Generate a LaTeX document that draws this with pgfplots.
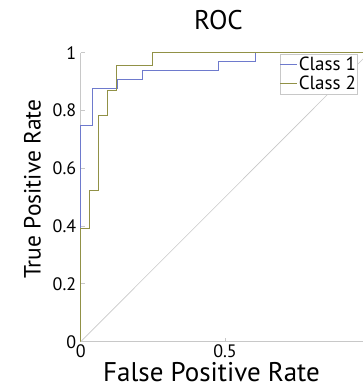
\documentclass[border=0pt]{standalone}
\usepackage{pgfplots}
\pgfplotsset{compat=1.18}
\usepackage{fontspec}
\setmainfont{PT Sans}
\definecolor{cblue}{RGB}{110,122,205}
\definecolor{colive}{RGB}{145,145,70}
\definecolor{axgray}{RGB}{200,200,200}
\begin{document}
\begin{tikzpicture}[x=1pt,y=1pt]
\begin{axis}[
  at={(80.7pt,46.3pt)}, anchor=south west,
  scale only axis, width=288.6pt, height=289pt,
  xmin=0, xmax=1, ymin=0, ymax=1,
  axis x line=bottom, axis y line=left,
  axis line style={-, axgray, line width=0.8pt},
  tick style={axgray, line width=0.8pt},
  major tick length=4pt, tick align=inside,
  xtick={0,0.5,1}, ytick={0,0.2,0.4,0.6,0.8,1},
  xticklabels={0,0.5,{}}, yticklabels={0,0.2,0.4,0.6,0.8,1},
  ticklabel style={font=\fontsize{18}{20}\selectfont, text=black},
  yticklabel style={xshift=-1pt},
  xticklabel style={inner sep=0pt, yshift=-3pt},
  xlabel={False Positive Rate}, ylabel={True Positive Rate},
  xlabel style={font=\fontsize{27}{30}\selectfont, inner sep=0pt, at={(axis description cs:0.453,-0.136)}, anchor=base},
  ylabel style={font=\fontsize{23.5}{28}\selectfont, at={(axis description cs:-0.167,0.528)}, anchor=center},
  title={ROC},
  title style={font=\fontsize{27}{30}\selectfont, at={(axis description cs:0.4775,1.061)}, anchor=base},
  legend style={at={(axis description cs:0.69,0.996)}, anchor=north west,
    draw=axgray, fill=white,
    inner xsep=0pt, inner ysep=1pt, row sep=0pt,
    nodes={font=\fontsize{19}{21}\selectfont, inner xsep=1pt, inner ysep=2pt}},
  legend cell align=left,
  legend image code/.code={\draw[#1] (0pt,0pt) -- (17pt,0pt);},
  clip=false,
]
\addplot[cblue, line width=0.8pt] coordinates {
  (0,0) (0,0.75) (0.040,0.75) (0.040,0.875) (0.127,0.875) (0.127,0.90625)
  (0.213,0.90625) (0.213,0.9375) (0.477,0.9375) (0.477,0.96875)
  (0.607,0.96875) (0.607,1) (1,1)};
\addlegendentry{Class 1}
\addplot[colive, line width=0.8pt] coordinates {
  (0,0) (0,0.391) (0.029,0.391) (0.029,0.522) (0.060,0.522) (0.060,0.783)
  (0.092,0.783) (0.092,0.870) (0.122,0.870) (0.122,0.957) (0.248,0.957)
  (0.248,1) (1,1)};
\addlegendentry{Class 2}
\addplot[axgray, line width=0.6pt, forget plot] coordinates {(0,0) (1,1)};
\end{axis}
\pgfresetboundingbox
\path[use as bounding box] (0,0) rectangle (362,388);
\end{tikzpicture}
\end{document}
